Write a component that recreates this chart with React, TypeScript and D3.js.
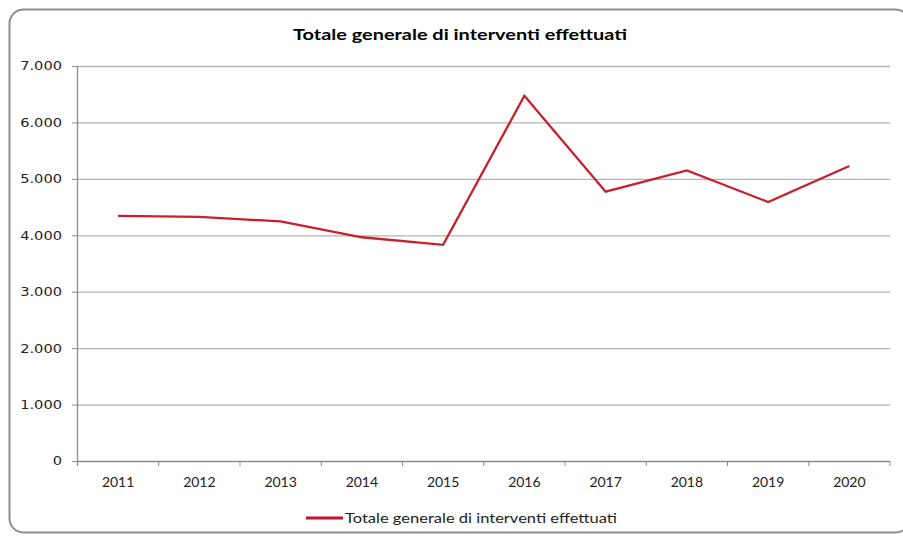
import React from "react";
import * as d3 from "d3";

const years = ["2011", "2012", "2013", "2014", "2015", "2016", "2017", "2018", "2019", "2020"];
const values = [4343, 4328, 4245, 3965, 3830, 6472, 4773, 5151, 4590, 5228];
const yTicks = [0, 1000, 2000, 3000, 4000, 5000, 6000, 7000];
const title = "Totale generale di interventi effettuati";
const seriesName = "Totale generale di interventi effettuati";

export default function App() {
  const W = 903, H = 537;
  const left = 77.5, right = 890, top = 66, bottom = 461;
  const x = d3.scaleBand<string>().domain(years).range([left, right]);
  const y = d3.scaleLinear().domain([0, 7000]).range([bottom, top]);
  const fmt = (v: number) => d3.format(",")(v).replace(/,/g, ".");
  const line = d3.line<number>()
    .x((_, i) => (x(years[i]) as number) + x.bandwidth() / 2)
    .y((d) => y(d));
  const lab = "Lato, 'Open Sans', sans-serif";
  return (
    <svg width={W} height={H} style={{ position: "absolute", left: 0, top: 0 }}>
      <rect x={0} y={0} width={W} height={H} fill="#fff" />
      <rect x={9.5} y={9.5} width={900} height={523} rx={14} fill="#fff" stroke="#8a8f99" strokeWidth={2} />
      <text x={293} y={39.5} textLength={334} lengthAdjust="spacingAndGlyphs" fontFamily={lab} fontWeight="bold" fontSize={16} fill="#000">{title}</text>
      {yTicks.map((t) => (
        <g key={t}>
          {t > 0 && <line x1={left} x2={right} y1={y(t) + 0.5} y2={y(t) + 0.5} stroke="#b3b3b3" strokeWidth={1.3} />}
          <line x1={72} x2={left} y1={y(t) + 0.5} y2={y(t) + 0.5} stroke="#8c8c8c" />
          <g transform={`translate(62,0) scale(1.17,1)`}>
            <text x={0} y={y(t) + 4.5} textAnchor="end" fontFamily="'DejaVu Sans', Verdana, sans-serif" fontSize={12.5} fill="#222">{fmt(t)}</text>
          </g>
        </g>
      ))}
      <line x1={left} x2={left} y1={top} y2={bottom + 5} stroke="#8c8c8c" strokeWidth={1.3} />
      <line x1={left} x2={right} y1={bottom + 0.5} y2={bottom + 0.5} stroke="#8c8c8c" strokeWidth={1.3} />
      {years.map((yr) => (
        <g key={yr}>
          <line x1={(x(yr) as number) + x.bandwidth()} x2={(x(yr) as number) + x.bandwidth()} y1={bottom} y2={bottom + 5} stroke="#8c8c8c" />
          <text x={(x(yr) as number) + x.bandwidth() / 2} y={487} textAnchor="middle" fontFamily={lab} fontSize={14} fill="#222">{yr}</text>
        </g>
      ))}
      <path d={line(values) as string} fill="none" stroke="#c8202a" strokeWidth={2.3} strokeLinejoin="miter" />
      <line x1={306} x2={343} y1={518} y2={518} stroke="#c0142a" strokeWidth={3} />
      <text x={345} y={523} textLength={272} lengthAdjust="spacingAndGlyphs" fontFamily={lab} fontSize={14} fill="#222">{seriesName}</text>
    </svg>
  );
}
